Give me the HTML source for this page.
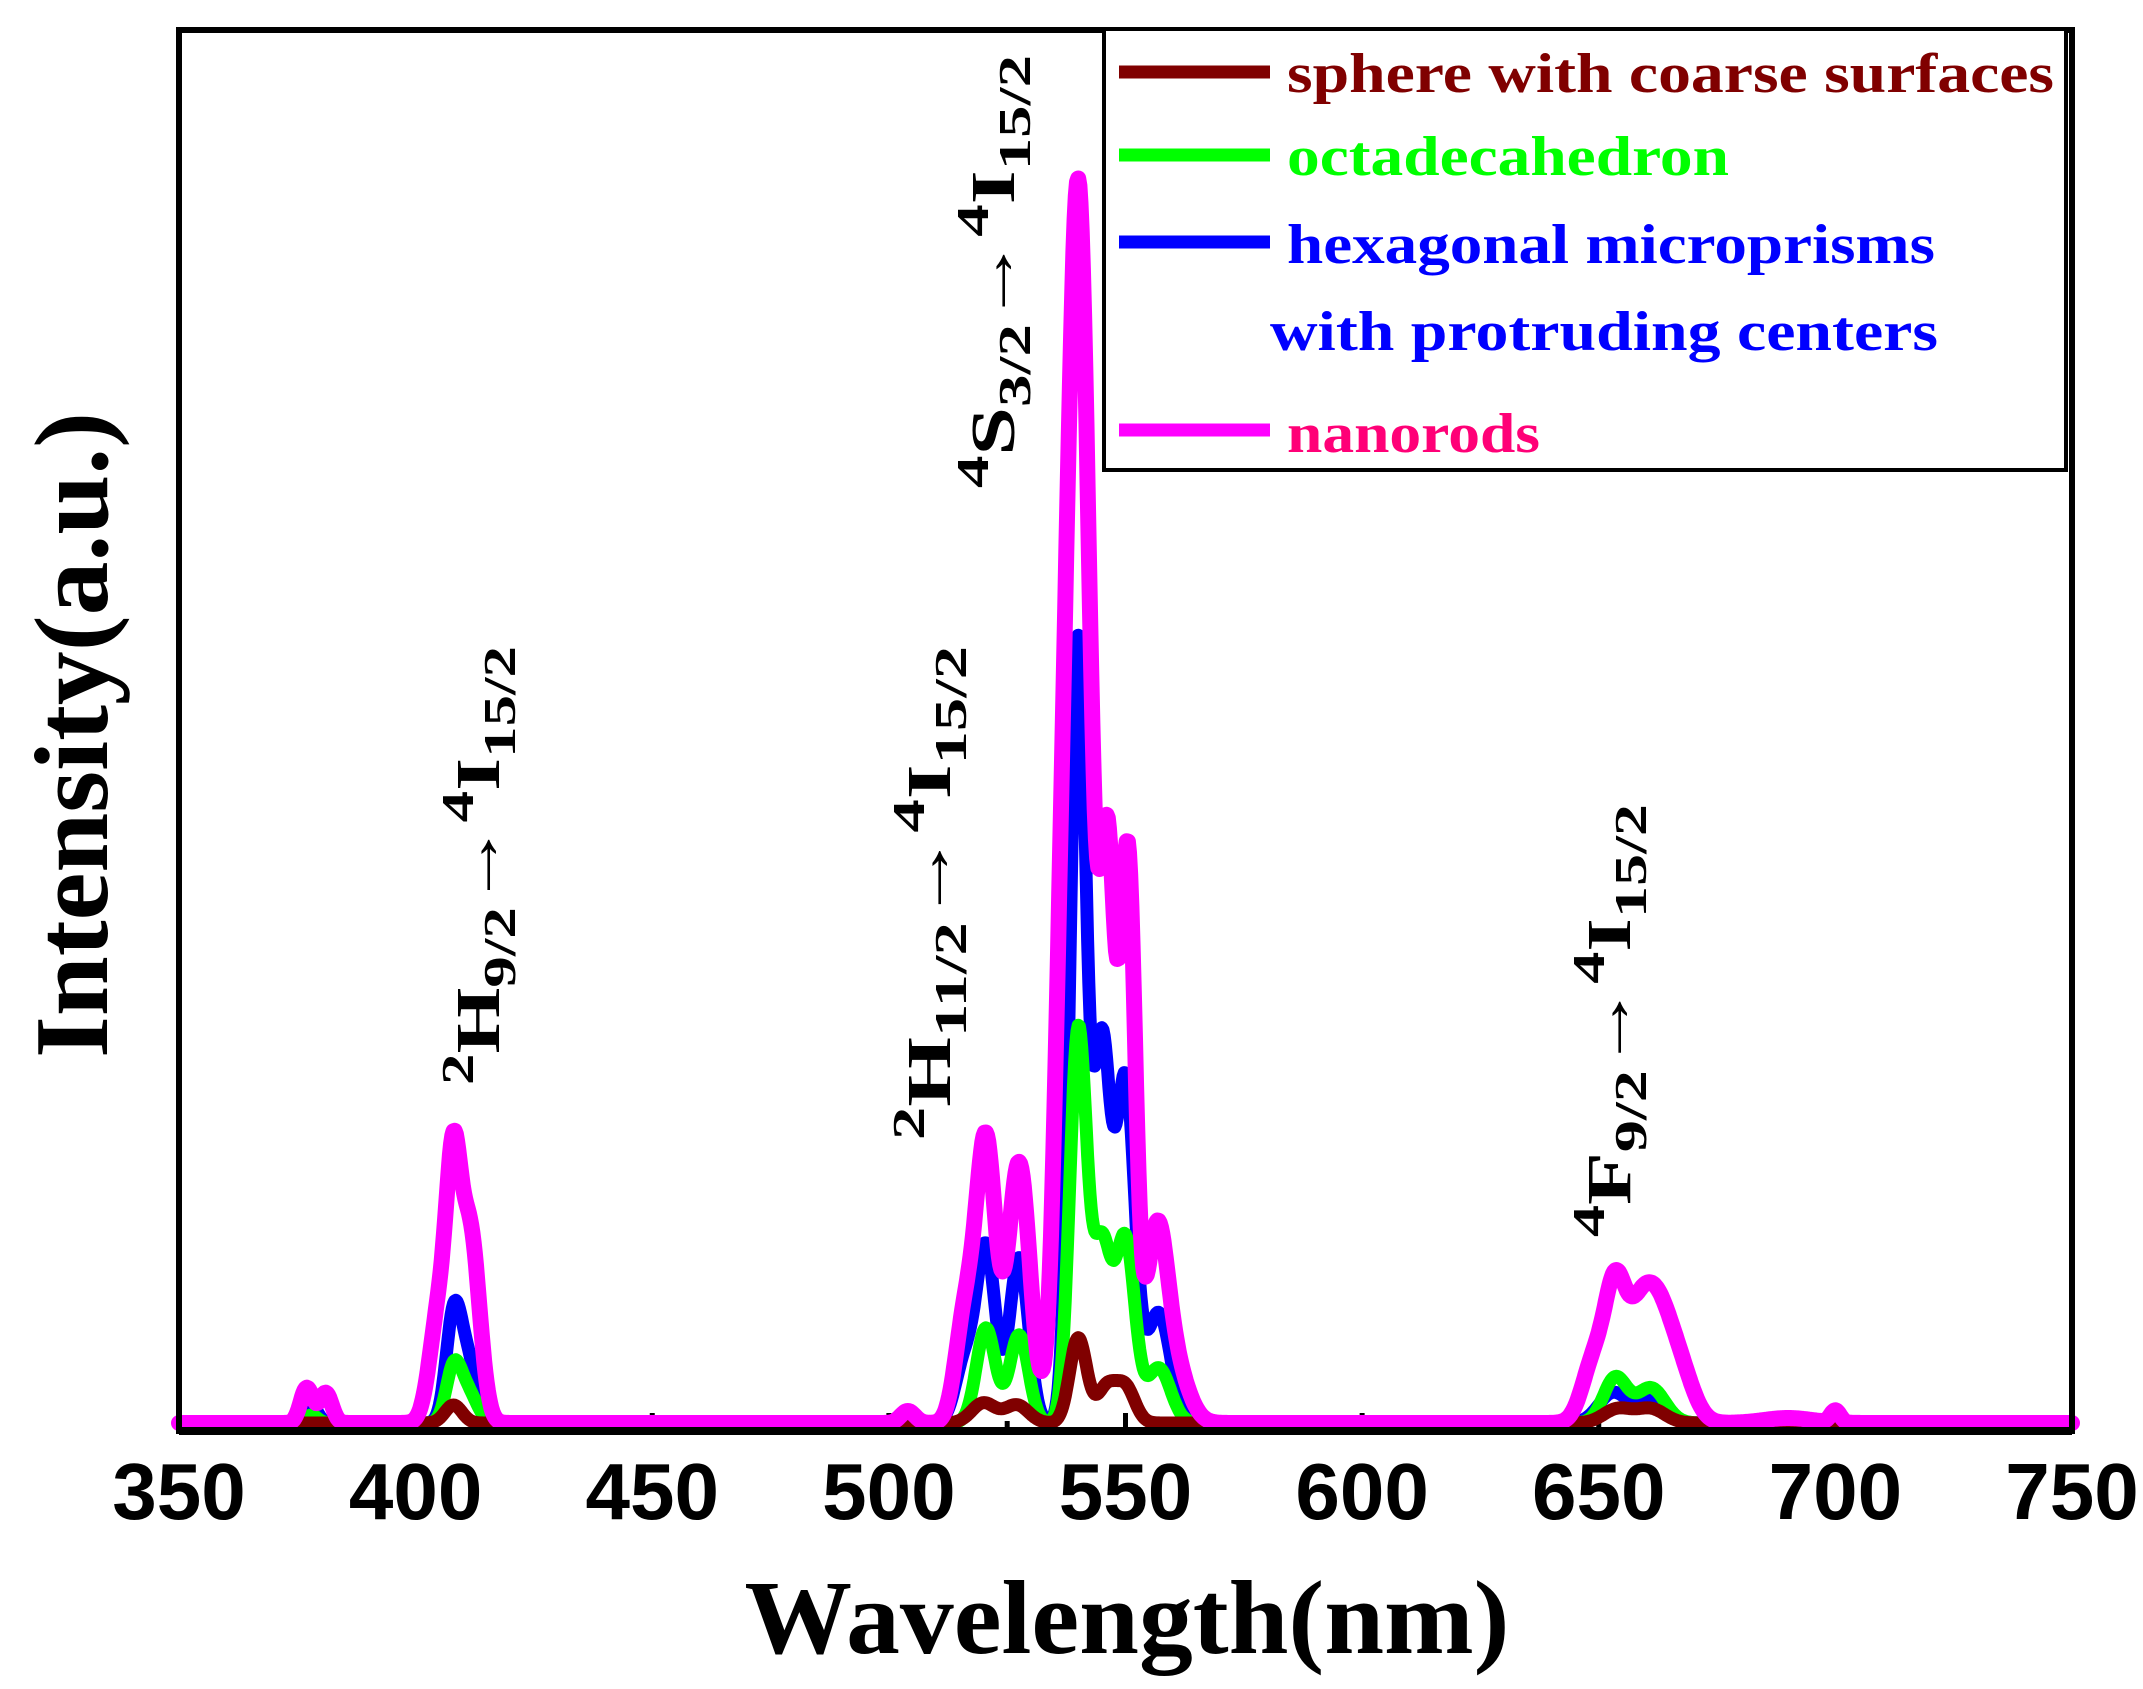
<!DOCTYPE html>
<html><head><meta charset="utf-8"><style>
html,body{margin:0;padding:0;background:#fff;}
svg{display:block;}
.sf{font-family:"Liberation Serif",serif;font-weight:bold;}
.ss{font-family:"Liberation Sans",sans-serif;font-weight:bold;}
</style></head><body>
<svg id="s" width="2143" height="1689" viewBox="0 0 2143 1689" xmlns="http://www.w3.org/2000/svg">
<rect x="0" y="0" width="2143" height="1689" fill="#fff"/>
<g id="ticks" stroke="#000" stroke-width="5"></g>
<g id="curves" fill="none" stroke-linejoin="round" stroke-linecap="round"></g>
<rect x="179" y="30" width="1893" height="1401" fill="none" stroke="#000" stroke-width="6"/>
<line x1="179" y1="1431" x2="2072" y2="1431" stroke="#000" stroke-width="8"/>
<g class="ss" font-size="80" text-anchor="middle" id="xt"></g>
<g class="sf">
<text x="1127" y="1653" font-size="105" text-anchor="middle" textLength="765" lengthAdjust="spacingAndGlyphs">Wavelength(nm)</text>
<text transform="translate(107,1058) rotate(-90)" font-size="105" textLength="646" lengthAdjust="spacingAndGlyphs">Intensity(a.u.)</text>
<rect x="1104" y="29" width="962" height="441" fill="#fff" stroke="#000" stroke-width="4"/>
<line x1="1119" y1="72" x2="1270" y2="72" stroke="#800000" stroke-width="13"/>
<line x1="1119" y1="155" x2="1270" y2="155" stroke="#00ff00" stroke-width="13"/>
<line x1="1119" y1="242" x2="1270" y2="242" stroke="#0000ff" stroke-width="13"/>
<line x1="1119" y1="430" x2="1270" y2="430" stroke="#ff00ff" stroke-width="13"/>
<text x="1287" y="92" font-size="56" fill="#800000" textLength="767" lengthAdjust="spacingAndGlyphs">sphere with coarse surfaces</text>
<text x="1287" y="175" font-size="56" fill="#00ff00" textLength="442" lengthAdjust="spacingAndGlyphs">octadecahedron</text>
<text x="1287" y="263" font-size="56" fill="#0000ff" textLength="648" lengthAdjust="spacingAndGlyphs">hexagonal microprisms</text>
<text x="1270" y="350" font-size="56" fill="#0000ff" textLength="668" lengthAdjust="spacingAndGlyphs">with protruding centers</text>
<text x="1287" y="452" font-size="56" fill="#ff0077" textLength="253" lengthAdjust="spacingAndGlyphs">nanorods</text>
<text transform="translate(499,1085) rotate(-90)" font-size="62" textLength="439" lengthAdjust="spacingAndGlyphs"><tspan font-size="46" dy="-26">2</tspan><tspan dy="26">H</tspan><tspan font-size="46" dy="16">9/2</tspan><tspan dy="-16">→</tspan><tspan font-size="46" dy="-26">4</tspan><tspan dy="26">I</tspan><tspan font-size="46" dy="16">15/2</tspan></text>
<text transform="translate(950,1140) rotate(-90)" font-size="62" textLength="494" lengthAdjust="spacingAndGlyphs"><tspan font-size="46" dy="-26">2</tspan><tspan dy="26">H</tspan><tspan font-size="46" dy="16">11/2</tspan><tspan dy="-16">→</tspan><tspan font-size="46" dy="-26">4</tspan><tspan dy="26">I</tspan><tspan font-size="46" dy="16">15/2</tspan></text>
<text transform="translate(1014,488) rotate(-90)" font-size="62" textLength="433" lengthAdjust="spacingAndGlyphs"><tspan font-size="46" dy="-26">4</tspan><tspan dy="26">S</tspan><tspan font-size="46" dy="16">3/2</tspan><tspan dy="-16">→</tspan><tspan font-size="46" dy="-26">4</tspan><tspan dy="26">I</tspan><tspan font-size="46" dy="16">15/2</tspan></text>
<text transform="translate(1630,1237) rotate(-90)" font-size="62" textLength="433" lengthAdjust="spacingAndGlyphs"><tspan font-size="46" dy="-26">4</tspan><tspan dy="26">F</tspan><tspan font-size="46" dy="16">9/2</tspan><tspan dy="-16">→</tspan><tspan font-size="46" dy="-26">4</tspan><tspan dy="26">I</tspan><tspan font-size="46" dy="16">15/2</tspan></text>
</g>
</svg>
<script>
var NS="http://www.w3.org/2000/svg";
function X(w){return 179+(w-350)*4.7325;}
var y0=1423;
var tk=document.getElementById("ticks");
for(var w=350;w<=750;w+=25){
  var l=document.createElementNS(NS,"line");
  var len=(w%50==0)?18:10;
  l.setAttribute("x1",X(w));l.setAttribute("x2",X(w));
  l.setAttribute("y1",1431);l.setAttribute("y2",1431-len);
  tk.appendChild(l);
}
var xt=document.getElementById("xt");
for(var w=350;w<=750;w+=50){
  var t=document.createElementNS(NS,"text");
  t.setAttribute("x",X(w));t.setAttribute("y",1519);
  t.textContent=w;xt.appendChild(t);
}
var series=[
 ["#0000ff",13,[[378,18,1.3],[408,100,1.6],[411,60,2],[516,60,2],[520.5,175,2],[527.5,165,2],[540,780,1.7],[545,370,1.8],[550,340,2],[557,110,2.5],[653,30,3],[661,25,3]]],
 ["#00ff00",13,[[378,8,1.3],[408,52,1.6],[411,30,2],[520.5,95,2],[527.5,88,2],[540,390,1.8],[545,175,2],[550,180,2],[557,55,2.5],[653.5,45,2.5],[661,35,3]]],
 ["#800000",13,[[408,18,1.8],[520,20,2.5],[527,18,2.5],[540,85,1.8],[546,35,2],[550,35,2],[654,14,3],[661,14,3]]],
 ["#ff00ff",16,[[377,35,1.3],[381,30,1.3],[405,110,2],[408,215,1.5],[411.5,190,2],[504,12,1.5],[516,100,2],[520.5,280,2.1],[527.5,260,2.3],[536,150,1.5],[540,1240,2.6],[546.3,520,1.6],[550.5,560,1.6],[556.5,170,2.2],[560,60,3],[649,60,2.5],[653.5,125,2.2],[658,70,2.5],[662,105,3],[667,50,3],[700,12,1],[690,5,5]]]
];
var g=document.getElementById("curves");
series.forEach(function(s){
  var d="";
  for(var w=350;w<=750;w+=0.25){
    var h=0;
    s[2].forEach(function(p){var z=(w-p[0])/p[2];h+=p[1]*Math.exp(-0.5*z*z);});
    d+=(d?"L":"M")+X(w).toFixed(1)+","+(y0-h).toFixed(1);
  }
  var p=document.createElementNS(NS,"path");
  p.setAttribute("d",d);p.setAttribute("stroke",s[0]);p.setAttribute("stroke-width",s[1]);
  g.appendChild(p);
});
</script>
</body></html>
